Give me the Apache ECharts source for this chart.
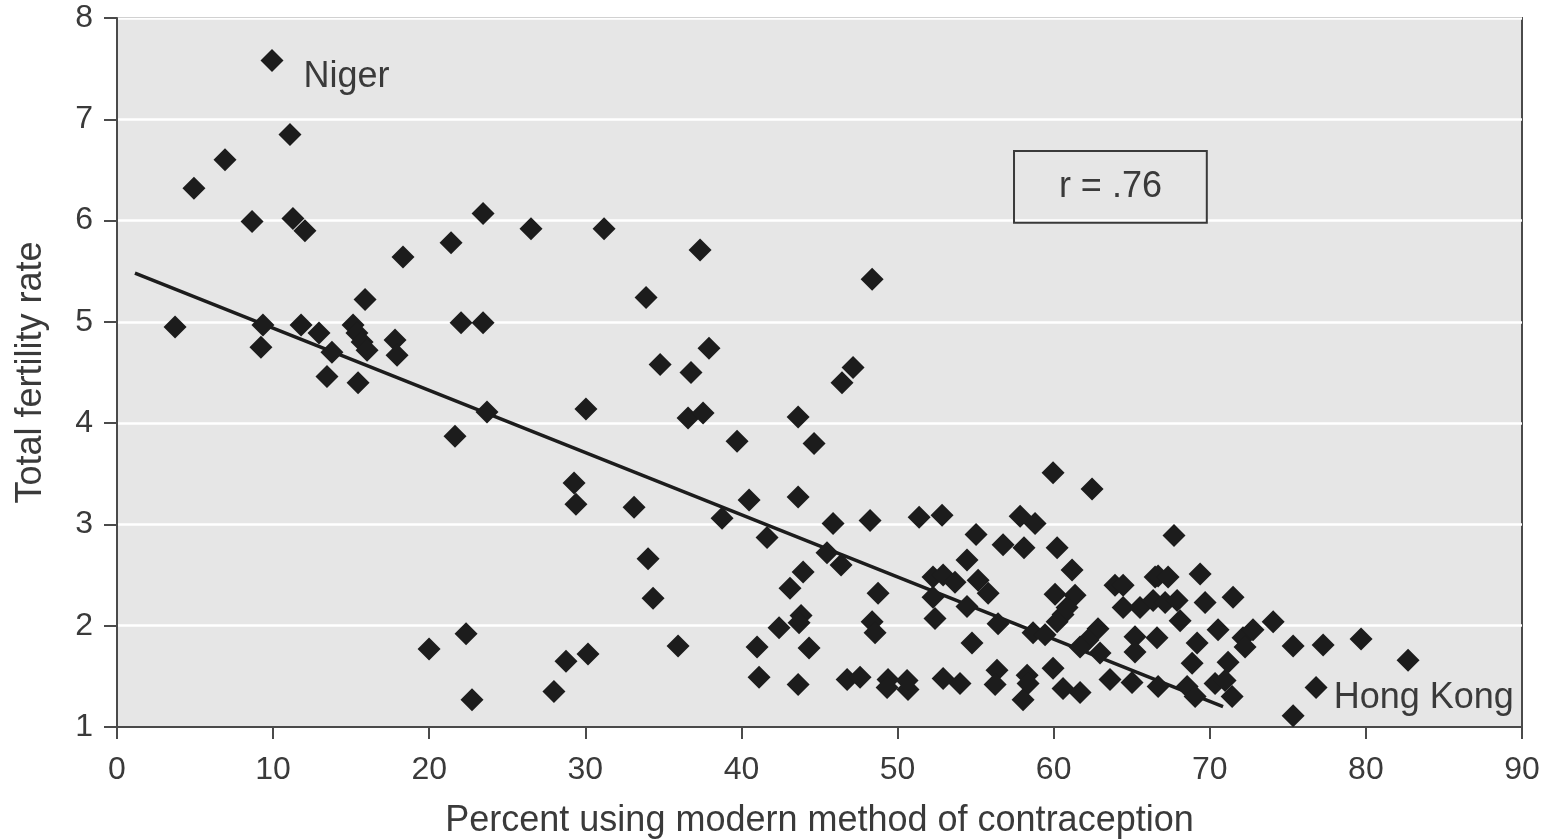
<!DOCTYPE html>
<html>
<head>
<meta charset="utf-8">
<title>Fertility and contraception</title>
<script src="https://cdn.jsdelivr.net/npm/echarts@6/dist/echarts.min.js"></script>
<style>
  html, body { margin: 0; padding: 0; background: #ffffff; }
  #chart { width: 1551px; height: 840px; }
</style>
</head>
<body>
<div id="chart"></div>
<script>
// Percent of women using a modern contraceptive method, per country
const contraceptionPct = [
  9.93, 11.08, 6.92, 4.93, 8.65, 11.27, 12.04,
  3.72, 9.35, 9.22, 11.79, 12.94, 13.77, 13.45, 15.12, 15.37, 15.70, 16.02, 15.89, 15.44,
  17.81, 17.94, 18.32, 21.40, 23.45, 22.04, 23.45, 23.70, 21.65, 19.99, 22.36, 22.74,
  26.52, 31.20, 37.35, 33.89, 34.79, 36.77, 37.92, 30.04, 36.58, 37.54, 39.72, 44.65, 43.63,
  29.28, 29.40, 33.12, 34.02, 34.34, 35.94, 28.76, 30.17, 27.99,
  40.49, 38.76, 41.64, 43.63, 45.87, 45.48, 46.38, 43.95, 43.11, 43.82, 43.69, 42.41, 41.00, 44.33, 41.13, 43.63,
  48.37, 47.15, 46.44, 59.96, 62.46, 48.24, 51.38, 52.85, 57.85, 58.81,
  55.03, 56.76, 58.10, 60.22, 48.75, 54.45, 52.27, 52.92, 53.68, 55.16, 55.80,
  61.18, 60.09, 61.37, 60.86, 60.60, 60.22, 52.27, 52.40, 54.45, 56.44, 58.68, 59.45, 54.77,
  62.84, 62.20, 61.69, 62.97, 63.93, 64.45, 64.45, 65.53, 66.50, 66.37, 66.62, 65.21, 65.21,
  63.61, 65.02, 66.69, 48.37, 48.56, 46.77, 47.60, 49.39, 49.33, 50.61, 50.67, 52.92, 54.00,
  56.37, 56.25, 58.30, 58.36, 58.04, 59.96, 60.60, 61.69,
  67.71, 66.69, 67.33, 69.38, 67.14, 67.91, 69.70, 71.49, 68.10, 70.53, 69.19, 68.87, 71.17,
  68.55, 69.06, 70.34, 70.98, 71.43, 72.13, 72.77, 72.26, 74.06, 75.34, 77.26, 79.69, 82.70,
  76.81, 75.34
];

// Total fertility rate, same country order
const fertilityRate = [
  7.58, 6.85, 6.60, 6.32, 5.99, 6.02, 5.90,
  4.95, 4.97, 4.75, 4.97, 4.89, 4.70, 4.46, 4.97, 4.89, 4.80, 4.72, 5.22, 4.40,
  4.82, 4.67, 5.64, 5.78, 6.07, 4.99, 4.99, 4.11, 3.87, 1.77, 1.92, 1.27,
  5.92, 5.92, 5.71, 5.24, 4.58, 4.50, 4.74, 4.14, 4.05, 4.10, 3.82, 3.80, 4.06,
  3.41, 3.20, 3.17, 2.66, 2.27, 1.80, 1.65, 1.72, 1.35,
  3.24, 3.06, 2.87, 3.27, 3.01, 2.72, 2.60, 2.53, 2.37, 2.10, 2.03, 1.98, 1.79, 1.78, 1.49, 1.42,
  5.42, 4.55, 4.40, 3.51, 3.35, 3.04, 3.07, 3.09, 3.08, 3.01,
  2.90, 2.80, 2.77, 2.77, 2.32, 2.65, 2.48, 2.50, 2.43, 2.45, 2.32,
  2.55, 2.31, 2.30, 2.18, 2.11, 2.04, 2.28, 2.07, 2.19, 2.02, 1.93, 1.91, 1.83,
  1.97, 1.86, 1.79, 1.73, 2.40, 2.40, 2.18, 2.18, 2.48, 2.25, 1.88, 1.89, 1.74,
  1.47, 1.44, 1.40, 2.04, 1.93, 1.47, 1.49, 1.47, 1.39, 1.46, 1.37, 1.48, 1.43,
  1.56, 1.42, 1.51, 1.43, 1.27, 1.58, 1.38, 1.34,
  2.89, 2.49, 2.48, 2.51, 2.23, 2.25, 2.23, 2.28, 2.05, 1.96, 1.83, 1.63, 1.64,
  1.40, 1.30, 1.43, 1.46, 1.30, 1.88, 1.96, 1.79, 2.04, 1.80, 1.81, 1.87, 1.66,
  1.39, 1.11
];

// Named countries, identified by their data pair
const namedCountries = [
  { name: 'Niger', x: 9.93, y: 7.58 },
  { name: 'Hong Kong', x: 75.34, y: 1.11 }
];

// Least-squares line end points
const fitX = [1.15, 70.85];
const fitY = [5.48, 1.20];

// Correlation note box (data coordinates: [x0, y0], [x1, y1])
const noteText = 'r = .76';
const noteBox = [[57.46, 6.687], [69.81, 5.979]];

const xTicks = { min: 0, max: 90, step: 10 };
const yTicks = { min: 1, max: 8, step: 1 };

const FONT = '"Liberation Sans", Arial, Helvetica, sans-serif';
const INK = '#3a3a3a';
const MARK = '#1c1c1c';

// label placement for the two named countries, relative to the marker box
const labelPlacement = {
  'Niger': [43, 28],
  'Hong Kong': [52, -6]
};

const points = contraceptionPct.map((x, i) => {
  const y = fertilityRate[i];
  const item = { value: [x, y] };
  const named = namedCountries.find(c => c.x === x && c.y === y);
  if (named) {
    item.label = {
      show: true,
      formatter: named.name,
      position: labelPlacement[named.name],
      align: 'left',
      verticalAlign: 'middle'
    };
  }
  return item;
});

const chart = echarts.init(document.getElementById('chart'), null, { renderer: 'canvas' });

chart.setOption({
  animation: false,
  backgroundColor: '#ffffff',
  textStyle: { fontFamily: FONT },
  grid: {
    left: 117, right: 29, top: 18, bottom: 113,
    containLabel: false,
    outerBoundsMode: 'none',
    show: true,
    backgroundColor: '#e6e6e6',
    borderColor: '#4a4a4a',
    borderWidth: 2
  },
  xAxis: {
    type: 'value',
    min: xTicks.min, max: xTicks.max, interval: xTicks.step,
    name: 'Percent using modern method of contraception',
    nameLocation: 'middle',
    nameGap: 76,
    nameTextStyle: { fontSize: 36, color: INK, fontFamily: FONT },
    axisLine: { show: true, onZero: false, lineStyle: { color: '#4a4a4a', width: 2 } },
    axisTick: { show: true, inside: false, length: 12, lineStyle: { color: '#4a4a4a', width: 2 } },
    axisLabel: { fontSize: 32, color: INK, margin: 27, fontFamily: FONT },
    splitLine: { show: false }
  },
  yAxis: {
    type: 'value',
    min: yTicks.min, max: yTicks.max, interval: yTicks.step,
    name: 'Total fertility rate',
    nameLocation: 'middle',
    nameGap: 68,
    nameTextStyle: { fontSize: 36, color: INK, fontFamily: FONT },
    axisLine: { show: true, onZero: false, lineStyle: { color: '#4a4a4a', width: 2 } },
    axisTick: { show: true, inside: false, length: 13, lineStyle: { color: '#4a4a4a', width: 2 } },
    axisLabel: { fontSize: 32, color: INK, margin: 24, fontFamily: FONT },
    splitLine: { show: true, lineStyle: { color: '#ffffff', width: 2.5 } }
  },
  series: [
    {
      type: 'line',
      data: fitX.map((x, i) => [x, fitY[i]]),
      symbol: 'none',
      lineStyle: { color: MARK, width: 3.5 },
      z: 2,
      silent: true
    },
    {
      type: 'scatter',
      data: points,
      symbol: 'diamond',
      symbolSize: 23,
      itemStyle: { color: MARK, opacity: 1 },
      label: { fontSize: 36, color: INK, fontFamily: FONT },
      labelLayout: { hideOverlap: false },
      z: 3,
      markArea: {
        silent: true,
        itemStyle: { color: 'rgba(0,0,0,0)', borderColor: '#3a3a3a', borderWidth: 2 },
        label: {
          show: true, position: 'inside', formatter: noteText,
          fontSize: 36, color: INK, fontFamily: FONT
        },
        data: [[{ coord: noteBox[0] }, { coord: noteBox[1] }]]
      }
    }
  ]
});
</script>
</body>
</html>
